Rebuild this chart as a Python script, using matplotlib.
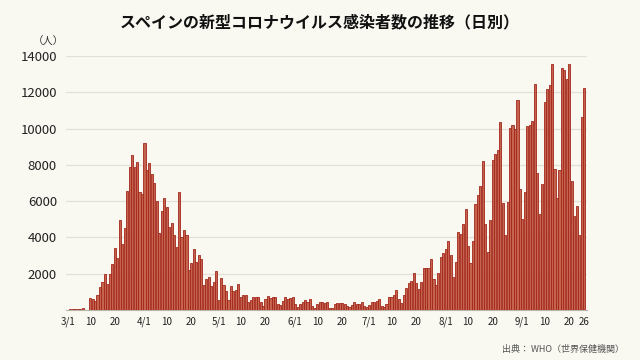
import numpy as np
import pandas as pd
import matplotlib
matplotlib.use("Agg")
import matplotlib.pyplot as plt

plt.rcParams['font.family'] = ['Noto Sans CJK JP', 'DejaVu Sans']

# daily new cases, one list per month
march = [20, 30, 40, 50, 50, 60, 130, 0, 0, 640, 590, 515, 830, 1290, 1525, 1985,
         1430, 1985, 2540, 3440, 2850, 4960, 3640, 4500, 6560, 7900, 8570, 7870,
         8160, 6530, 6380]
april = [9190, 7720, 8090, 7480, 6990, 6010, 4260, 5460, 6160, 5700, 4560, 4820,
         4150, 3470, 6530, 4040, 4430, 4120, 2220, 2600, 3360, 2630, 3050, 2830,
         1350, 1720, 1810, 1300, 1560, 2130]
may = [540, 1760, 1370, 1060, 560, 1310, 1040, 1110, 1430, 740, 810, 810, 460, 570,
       690, 720, 700, 430, 220, 590, 760, 670, 740, 740, 310, 280, 520, 690, 590,
       650, 690]
june = [330, 150, 330, 460, 560, 460, 630, 220, 130, 330, 430, 430, 410, 440, 90, 90,
        310, 370, 370, 370, 330, 240, 190, 280, 430, 330, 330, 440, 220, 190]
july = [280, 430, 430, 480, 590, 200, 150, 330, 700, 700, 830, 1110, 610, 370, 830,
        1220, 1510, 1570, 2030, 1490, 1140, 1550, 2290, 2290, 2310, 2800, 1720, 1380,
        2030, 2920, 3140]
august = [3360, 3800, 3010, 1810, 2660, 4320, 4190, 4760, 5570, 3540, 2580, 3780,
          5870, 6330, 6860, 8230, 4760, 3190, 4940, 8290, 8620, 8840, 10370, 5890,
          4140, 5950, 10020, 10180, 10000, 11570, 6670]
september = [5030, 6520, 10130, 10200, 10440, 12470, 7550, 5320, 6960, 11470, 12190,
             12430, 13540, 7770, 6150, 7720, 13350, 13220, 12740, 13540, 7110, 5210,
             5730, 4140, 10640, 12270]

values = march + april + may + june + july + august + september
dates = pd.date_range("2020-03-01", periods=len(values), freq="D")
x = np.arange(len(values))

tick_idx = [i for i, d in enumerate(dates) if d.day in (1, 10, 20)] + [len(values) - 1]
tick_lab = [f"{d.month}/1" if d.day == 1 else str(d.day) for d in dates[tick_idx]]

bg = "#f9f8f1"
fig = plt.figure(figsize=(6.4, 3.6), dpi=100, facecolor=bg)
ax = fig.add_axes([0.103, 0.139, 0.814, 0.705], facecolor=bg)

ax.bar(x, values, width=0.85, color="#c4644e", edgecolor="#a3261a", linewidth=0.6, zorder=3)

ax.set_xlim(-0.8, 210.1)
ax.set_ylim(0, 14000)
ax.set_yticks(np.arange(0, 14001, 2000))
ax.set_yticklabels([""] + [str(v) for v in range(2000, 14001, 2000)], fontsize=9.5)
ax.set_xticks(tick_idx)
ax.set_xticklabels(tick_lab, fontsize=7)
ax.tick_params(axis="both", length=0, colors="#222222")
ax.tick_params(axis="y", pad=6.5)
ax.tick_params(axis="x", pad=5)
ax.grid(axis="y", color="#e3e0d8", linewidth=0.9, zorder=0)
for s in ["top", "right", "left"]:
    ax.spines[s].set_visible(False)
ax.spines["bottom"].set_color("#b8b4aa")
ax.spines["bottom"].set_linewidth(0.8)

fig.text(0.5, 0.938, "スペインの新型コロナウイルス感染者数の推移（日別）",
         ha="center", va="center", fontsize=11.5, fontweight="bold", color="#111111")
fig.text(0.075, 0.885, "（人）", ha="center", va="center", fontsize=7.5, color="#333333")
fig.text(0.975, 0.03, "出典： WHO（世界保健機関）", ha="right", va="center",
         fontsize=6.5, color="#555555")

fig.savefig("out.png", dpi=100, facecolor=bg)
